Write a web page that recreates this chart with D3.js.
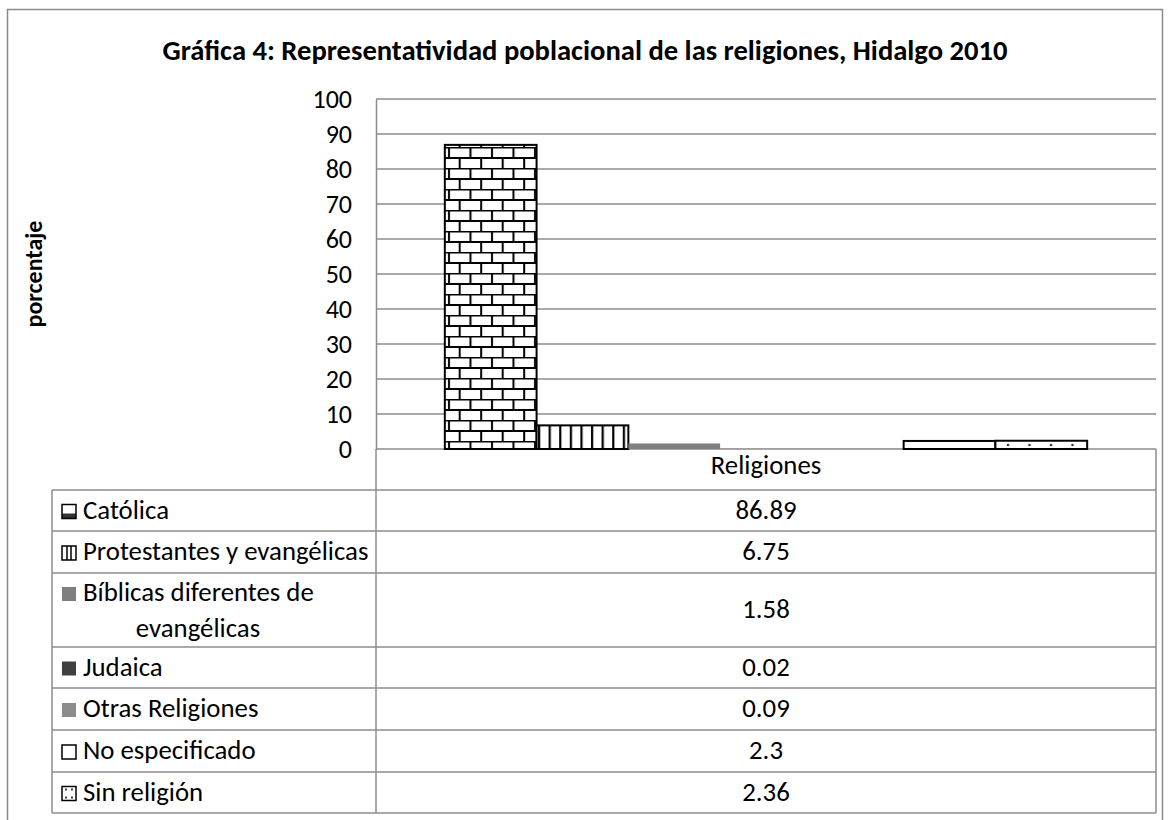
<!DOCTYPE html>
<html>
<head>
<meta charset="utf-8">
<script src="https://d3js.org/d3.v7.min.js"></script>
<style>
body { margin: 0; background: white; }
svg text { font-family: Carlito, Calibri, "Noto Sans", sans-serif; fill: black; }
</style>
</head>
<body>
<svg width="1170" height="820"></svg>
<script>
// data
var categories = ["Religiones"];
var series = ["Católica", "Protestantes y evangélicas", "Bíblicas diferentes de evangélicas",
              "Judaica", "Otras Religiones", "No especificado", "Sin religión"];
var values = [86.89, 6.75, 1.58, 0.02, 0.09, 2.3, 2.36];
var valueLabels = ["86.89", "6.75", "1.58", "0.02", "0.09", "2.3", "2.36"];
var tickValues = [0, 10, 20, 30, 40, 50, 60, 70, 80, 90, 100];
var fills = ["url(#brick)", "url(#vstripe)", "#7f7f7f", "#404040", "#8c8c8c", "white", "url(#dots)"];
var keyFills = ["url(#brickKey)", "url(#vstripeKey)", "#7f7f7f", "#404040", "#8c8c8c", "white", "url(#dotsKey)"];

var plotLeft = 376, plotRight = 1156, plotTop = 99, plotBottom = 449;
var tableLeft = 52;
var rowHeights = [41, 41, 42, 74, 41, 42, 42, 41];
var fs = "26.8px";

var svg = d3.select("svg");
var defs = svg.append("defs");

// brick pattern
var brick = defs.append("pattern").attr("id", "brick").attr("patternUnits", "userSpaceOnUse")
    .attr("x", 445).attr("y", 0).attr("width", 21.5).attr("height", 21);
brick.append("rect").attr("width", 21.5).attr("height", 21).attr("fill", "white");
brick.append("path")
    .attr("d", "M0,0.5H21.5 M0,11H21.5 M4,0V11 M14.7,11V21")
    .attr("stroke", "black").attr("stroke-width", 2).attr("fill", "none");

var vs = defs.append("pattern").attr("id", "vstripe").attr("patternUnits", "userSpaceOnUse")
    .attr("x", 537).attr("width", 10.6).attr("height", 10);
vs.append("rect").attr("width", 10.6).attr("height", 10).attr("fill", "white");
vs.append("rect").attr("x", 1).attr("width", 2.2).attr("height", 10).attr("fill", "black");

var dots = defs.append("pattern").attr("id", "dots").attr("patternUnits", "userSpaceOnUse")
    .attr("x", 1003).attr("y", 3).attr("width", 21.5).attr("height", 10);
dots.append("rect").attr("width", 21.5).attr("height", 10).attr("fill", "white");
dots.append("circle").attr("cx", 5).attr("cy", 2).attr("r", 1.3).attr("fill", "#333");

// small key patterns
var bk = defs.append("pattern").attr("id", "brickKey").attr("patternUnits", "objectBoundingBox")
    .attr("width", 1).attr("height", 1);
bk.append("rect").attr("width", 14).attr("height", 14).attr("fill", "white");
bk.append("rect").attr("y", 9).attr("width", 14).attr("height", 5).attr("fill", "#333");
var vk = defs.append("pattern").attr("id", "vstripeKey").attr("patternUnits", "objectBoundingBox")
    .attr("width", 1).attr("height", 1);
vk.append("rect").attr("width", 14).attr("height", 14).attr("fill", "white");
vk.append("path").attr("d", "M5,0V14 M9,0V14").attr("stroke", "black").attr("stroke-width", 1.5);
var dk = defs.append("pattern").attr("id", "dotsKey").attr("patternUnits", "objectBoundingBox")
    .attr("width", 1).attr("height", 1);
dk.append("rect").attr("width", 14).attr("height", 14).attr("fill", "white");
dk.append("path").attr("d", "M3,3H5 M9,3H11 M3,11H5 M9,11H11").attr("stroke", "black").attr("stroke-width", 1.5);

// outer frame
svg.append("rect").attr("x", 7.5).attr("y", 9.5).attr("width", 1155).attr("height", 830)
    .attr("fill", "white").attr("stroke", "#8a8a8a").attr("stroke-width", 1.5);

// title
svg.append("text").attr("x", 585).attr("y", 60).attr("text-anchor", "middle")
    .attr("font-size", "28.6px").attr("font-weight", "bold")
    .text("Gráfica 4: Representatividad poblacional de las religiones, Hidalgo 2010");

// scales
var y = d3.scaleLinear().domain([0, 100]).range([plotBottom, plotTop]);
var x0 = d3.scaleBand().domain(categories).range([plotLeft, plotRight]);
var x1 = d3.scaleBand().domain(series).range([0, x0.bandwidth()]).paddingInner(0).paddingOuter(0.75);

// gridlines
svg.append("g").selectAll("line").data(tickValues).join("line")
    .attr("x1", plotLeft).attr("x2", plotRight)
    .attr("y1", function(d) { return y(d); }).attr("y2", function(d) { return y(d); })
    .attr("stroke", "#8c8c8c").attr("stroke-width", 1.5);

// y axis
var yAxis = svg.append("g").attr("transform", "translate(" + plotLeft + ",0)")
    .call(d3.axisLeft(y).tickValues(tickValues).tickSize(0).tickPadding(24));
yAxis.select(".domain").attr("stroke", "#8c8c8c").attr("stroke-width", 1.5);
yAxis.selectAll("text").attr("font-size", "26px").attr("font-family", "Carlito, Calibri, 'Noto Sans', sans-serif");

svg.append("text").attr("transform", "translate(42," + ((plotTop + plotBottom) / 2) + ") rotate(-90)")
    .attr("text-anchor", "middle").attr("font-size", "24px").attr("font-weight", "bold")
    .text("porcentaje");

// bars
svg.append("g").selectAll("rect").data(values).join("rect")
    .attr("x", function(d, i) { return x0(categories[0]) + x1(series[i]); })
    .attr("width", x1.bandwidth())
    .attr("y", function(d) { return y(d); })
    .attr("height", function(d) { return y(0) - y(d); })
    .attr("fill", function(d, i) { return fills[i]; })
    .attr("stroke", function(d, i) { return (i == 2 || i == 3 || i == 4) ? "none" : "black"; })
    .attr("stroke-width", 2);

// data table
var rowTops = [plotBottom];
rowHeights.forEach(function(h) { rowTops.push(rowTops[rowTops.length - 1] + h); });
var table = svg.append("g");
var tableBottom = rowTops[rowTops.length - 1];
var lineColor = "#8c8c8c";

// header cell
table.append("text").attr("x", (plotLeft + plotRight) / 2).attr("y", plotBottom + 25)
    .attr("text-anchor", "middle").attr("font-size", fs).text(categories[0]);

// horizontal lines
table.selectAll("line.h").data(rowTops.slice(1)).join("line").attr("class", "h")
    .attr("x1", tableLeft).attr("x2", plotRight)
    .attr("y1", function(d) { return d; }).attr("y2", function(d) { return d; })
    .attr("stroke", lineColor).attr("stroke-width", 1.5);
// vertical lines
table.append("line").attr("x1", tableLeft).attr("x2", tableLeft).attr("y1", rowTops[1]).attr("y2", tableBottom)
    .attr("stroke", lineColor).attr("stroke-width", 1.5);
table.append("line").attr("x1", plotLeft).attr("x2", plotLeft).attr("y1", plotBottom).attr("y2", tableBottom)
    .attr("stroke", lineColor).attr("stroke-width", 1.5);
table.append("line").attr("x1", plotRight).attr("x2", plotRight).attr("y1", plotBottom).attr("y2", tableBottom)
    .attr("stroke", lineColor).attr("stroke-width", 1.5);

series.forEach(function(s, i) {
    var top = rowTops[i + 1], h = rowHeights[i + 1], mid = top + h / 2;
    var lineY = (i == 2) ? top + 20 : mid;
    table.append("rect").attr("x", 62).attr("y", lineY - 6).attr("width", 14).attr("height", 14)
        .attr("fill", keyFills[i])
        .attr("stroke", (i == 2 || i == 3 || i == 4) ? "none" : "black").attr("stroke-width", 1.5);
    if (i == 2) {
        table.append("text").attr("x", 83).attr("y", top + 28).attr("font-size", fs)
            .text("Bíblicas diferentes de");
        table.append("text").attr("x", 198).attr("y", top + 64).attr("text-anchor", "middle").attr("font-size", fs)
            .text("evangélicas");
    } else {
        table.append("text").attr("x", 83).attr("y", mid + 8).attr("font-size", fs).text(s);
    }
    table.append("text").attr("x", (plotLeft + plotRight) / 2).attr("y", mid + 8)
        .attr("text-anchor", "middle").attr("font-size", fs).text(valueLabels[i]);
});
</script>
</body>
</html>
